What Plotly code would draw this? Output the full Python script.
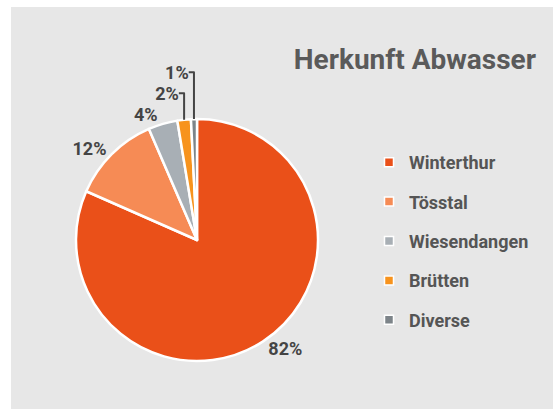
import plotly.graph_objects as go

W, H = 553, 409

labels = ["Winterthur", "Tösstal", "Wiesendangen", "Brütten", "Diverse"]
values = [81.6, 11.9, 3.9, 1.8, 0.8]
colors = ["#EA5019", "#F68B55", "#A8AFB5", "#F7931D", "#7D8489"]
title = "Herkunft Abwasser"

FONT = "Roboto"

fig = go.Figure()

fig.add_trace(go.Pie(
    labels=labels,
    values=values,
    sort=False,
    direction="clockwise",
    rotation=0,
    marker=dict(colors=colors, line=dict(color="white", width=2.5)),
    texttemplate="%{percent:.0%}",
    textposition="outside",
    textfont=dict(family=FONT, size=18, color="#444444", weight="bold"),
    showlegend=False,
    hoverinfo="label+percent",
    domain=dict(x=[76 / W, 318 / W], y=[1 - 361 / H, 1 - 119 / H]),
    automargin=False,
))

for lab, col in zip(labels, colors):
    fig.add_trace(go.Scatter(
        x=[None], y=[None], mode="markers", name=lab, legendgroup=lab,
        marker=dict(symbol="square", size=9, color=col,
                    line=dict(color="white", width=1.5)),
    ))

fig.update_layout(
    width=W, height=H,
    margin=dict(l=0, r=0, t=0, b=0),
    paper_bgcolor="white",
    plot_bgcolor="rgba(0,0,0,0)",
    xaxis=dict(visible=False),
    yaxis=dict(visible=False),
    shapes=[dict(type="rect", xref="paper", yref="paper",
                 x0=11 / W, x1=1, y0=0, y1=1 - 7 / H,
                 fillcolor="#E7E7E7", line=dict(width=0), layer="below")],
    title=dict(text=title, x=1 - 17 / W, xanchor="right",
               y=1 - 59 / H, yanchor="middle",
               font=dict(family=FONT, size=28, color="#5A5A5A", weight="bold")),
    legend=dict(x=369 / W, xanchor="left", y=1 - 144 / H, yanchor="top",
                bgcolor="rgba(0,0,0,0)", traceorder="grouped",
                tracegroupgap=13, itemwidth=30,
                font=dict(family=FONT, size=18, color="#555555", weight="bold")),
)

fig.write_html("out.html")
